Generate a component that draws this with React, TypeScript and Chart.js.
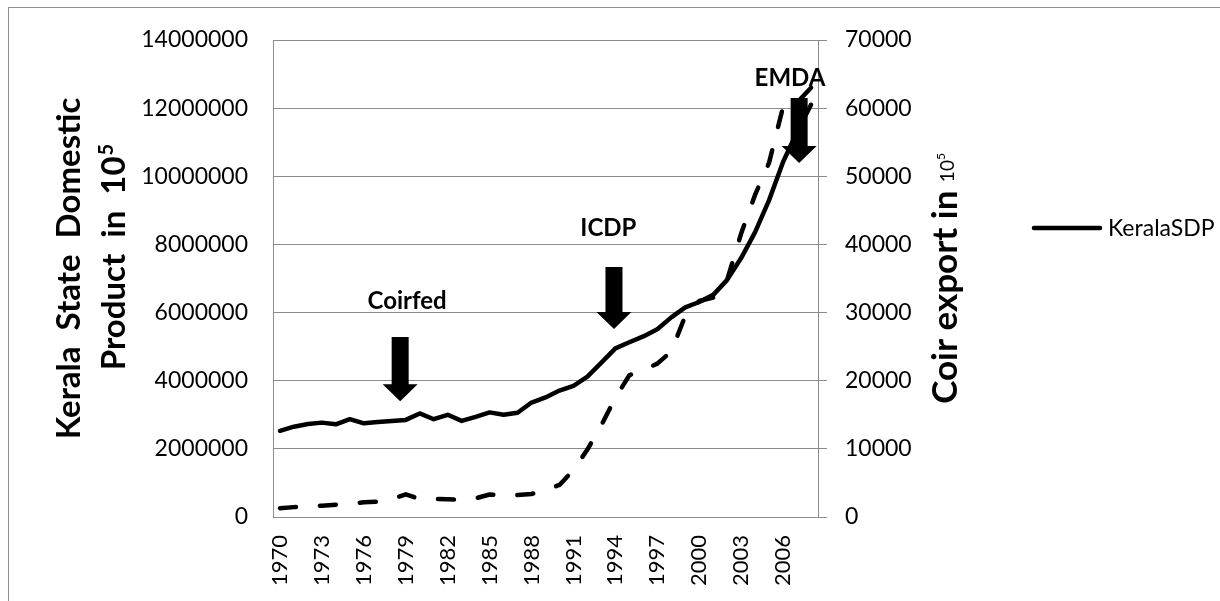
import React, { useEffect, useRef } from "react";
import { Chart, registerables } from "chart.js";

Chart.register(...registerables);

// ---------- data ----------
const years = [
  1970, 1971, 1972, 1973, 1974, 1975, 1976, 1977, 1978, 1979,
  1980, 1981, 1982, 1983, 1984, 1985, 1986, 1987, 1988, 1989,
  1990, 1991, 1992, 1993, 1994, 1995, 1996, 1997, 1998, 1999,
  2000, 2001, 2002, 2003, 2004, 2005, 2006, 2007, 2008,
];
const yearLabels = years.map(String);

// Kerala State Domestic Product (left axis)
const keralaSDP = [
  2530000, 2650000, 2730000, 2770000, 2720000, 2870000, 2750000, 2790000, 2820000, 2850000,
  3040000, 2870000, 3000000, 2820000, 2940000, 3070000, 3000000, 3060000, 3360000, 3510000,
  3710000, 3850000, 4120000, 4530000, 4950000, 5130000, 5300000, 5510000, 5860000, 6150000,
  6310000, 6520000, 6960000, 7600000, 8360000, 9300000, 10420000, 11300000, 12100000,
];

// Coir export (right axis)
const coirExport = [
  1300, 1450, 1560, 1660, 1810, 1960, 2150, 2250, 2640, 3330,
  2640, 2640, 2600, 2490, 2740, 3300, 3230, 3230, 3380, 3960,
  4700, 6900, 9900, 13500, 17500, 20800, 21600, 22500, 24300, 29500,
  31700, 32200, 34800, 41600, 47300, 52000, 60200, 60800, 63000,
];

const sdpTickValues = [0, 2000000, 4000000, 6000000, 8000000, 10000000, 12000000, 14000000];
const coirTickValues = [0, 10000, 20000, 30000, 40000, 50000, 60000, 70000];

// annotations: label, arrow year, arrow tip / top value, label year, label baseline value (left axis units)
const annotationLabels = ["Coirfed", "ICDP", "EMDA"];
const annotationArrowYears = [1978.6, 1993.9, 2007.15];
const annotationTipValues = [3400000, 5520000, 10390000];
const annotationTopValues = [5280000, 7340000, 12300000];
const annotationTextYears = [1979.1, 1993.5, 2006.5];
const annotationTextValues = [6100000, 8250000, 12650000];

const leftTitleLines = ["Kerala  State  Domestic", "Product  in  10"];
const leftTitleSup = "5";
const rightTitleMain = "Coir export in ";
const rightTitleSmall = "10";
const rightTitleSup = "5";

const GRID = "#8c8c8c";
const FONT = "Lato";

const overlayPlugin = {
  id: "overlay",
  afterDatasetsDraw(chart: any) {
    const ctx = chart.ctx as CanvasRenderingContext2D;
    const xs = chart.scales.x;
    const ys = chart.scales.y;
    ctx.save();
    ctx.fillStyle = "#000";
    for (let i = 0; i < annotationLabels.length; i++) {
      const cx = xs.getPixelForValue(annotationArrowYears[i] - years[0]);
      const tip = ys.getPixelForValue(annotationTipValues[i]);
      const top = ys.getPixelForValue(annotationTopValues[i]);
      const sh = 8.5, hh = 17.5, hl = 17;
      ctx.beginPath();
      ctx.moveTo(cx - sh, top);
      ctx.lineTo(cx + sh, top);
      ctx.lineTo(cx + sh, tip - hl);
      ctx.lineTo(cx + hh, tip - hl);
      ctx.lineTo(cx, tip);
      ctx.lineTo(cx - hh, tip - hl);
      ctx.lineTo(cx - sh, tip - hl);
      ctx.closePath();
      ctx.fill();
      const tx = xs.getPixelForValue(annotationTextYears[i] - years[0]);
      const ty = ys.getPixelForValue(annotationTextValues[i]);
      ctx.font = `bold 24px ${FONT}`;
      ctx.textAlign = "center";
      ctx.textBaseline = "alphabetic";
      ctx.fillText(annotationLabels[i], tx, ty);
    }
    ctx.restore();
  },
  afterDraw(chart: any) {
    const ctx = chart.ctx as CanvasRenderingContext2D;
    const area = chart.chartArea;
    const midY = (area.top + area.bottom) / 2;
    ctx.save();
    ctx.fillStyle = "#000";
    ctx.textBaseline = "alphabetic";
    ctx.textAlign = "left";

    // left title (two lines)
    const bigFont = `bold 33px ${FONT}`;
    const supFont = `bold 20px ${FONT}`;
    ctx.font = bigFont;
    const w1 = ctx.measureText(leftTitleLines[0]).width;
    ctx.save();
    ctx.translate(80, midY - 10);
    ctx.rotate(-Math.PI / 2);
    ctx.fillText(leftTitleLines[0], -w1 / 2, 0);
    ctx.restore();

    ctx.font = bigFont;
    const w2a = ctx.measureText(leftTitleLines[1]).width;
    ctx.font = supFont;
    const w2b = ctx.measureText(leftTitleSup).width;
    const w2 = w2a + w2b;
    ctx.save();
    ctx.translate(125, midY - 21);
    ctx.rotate(-Math.PI / 2);
    ctx.font = bigFont;
    ctx.fillText(leftTitleLines[1], -w2 / 2, 0);
    ctx.font = supFont;
    ctx.fillText(leftTitleSup, -w2 / 2 + w2a + 1, -12);
    ctx.restore();

    // right title
    const rMain = `bold 35px ${FONT}`;
    const rSmall = `19px ${FONT}`;
    const rSup = `12px ${FONT}`;
    ctx.font = rMain;
    const ra = ctx.measureText(rightTitleMain).width;
    ctx.font = rSmall;
    const rb = ctx.measureText(rightTitleSmall).width;
    ctx.font = rSup;
    const rc = ctx.measureText(rightTitleSup).width;
    const rw = ra + rb + rc;
    ctx.save();
    ctx.translate(957, midY);
    ctx.rotate(-Math.PI / 2);
    ctx.font = rMain;
    ctx.fillText(rightTitleMain, -rw / 2, 0);
    ctx.font = rSmall;
    ctx.fillText(rightTitleSmall, -rw / 2 + ra, -3);
    ctx.font = rSup;
    ctx.fillText(rightTitleSup, -rw / 2 + ra + rb, -12);
    ctx.restore();

    // legend (first dataset only)
    const ds = chart.data.datasets[0];
    ctx.strokeStyle = "#000";
    ctx.lineWidth = 4.5;
    ctx.lineCap = "round";
    ctx.beginPath();
    ctx.moveTo(1034, 228);
    ctx.lineTo(1100, 228);
    ctx.stroke();
    ctx.font = `23px ${FONT}`;
    ctx.textBaseline = "middle";
    ctx.fillText(ds.label, 1108, 229);
    ctx.restore();
  },
};

export default function App() {
  const canvasRef = useRef<HTMLCanvasElement | null>(null);

  useEffect(() => {
    const canvas = canvasRef.current;
    if (!canvas) return;
    const chart = new Chart(canvas, {
      type: "line",
      data: {
        labels: yearLabels,
        datasets: [
          {
            label: "KeralaSDP",
            data: keralaSDP,
            yAxisID: "y",
            borderColor: "#000",
            backgroundColor: "#000",
            borderWidth: 4.5,
            pointRadius: 0,
            tension: 0,
            borderCapStyle: "round",
            borderJoinStyle: "round",
            fill: false,
          },
          {
            label: "Coir export",
            data: coirExport,
            yAxisID: "y1",
            borderColor: "#000",
            backgroundColor: "#000",
            borderWidth: 4.5,
            borderDash: [16, 24],
            pointRadius: 0,
            tension: 0,
            borderCapStyle: "round",
            borderJoinStyle: "round",
            fill: false,
          },
        ],
      },
      options: {
        responsive: false,
        animation: false,
        devicePixelRatio: 1,
        layout: { padding: { top: 40, left: 0, right: 0, bottom: 0 } },
        plugins: {
          legend: { display: false },
          tooltip: { enabled: false },
        },
        scales: {
          x: {
            type: "category",
            offset: true,
            grid: { display: false, drawTicks: false },
            border: { display: true, color: GRID, width: 1 },
            ticks: {
              autoSkip: false,
              minRotation: 90,
              maxRotation: 90,
              padding: 18,
              color: "#000",
              font: { family: FONT, size: 22 },
              callback: (_v: any, i: number) => (i % 3 === 0 ? yearLabels[i] : null),
            },
            afterFit: (s: any) => {
              s.height = 84;
            },
          },
          y: {
            position: "left",
            min: 0,
            max: 14000000,
            afterBuildTicks: (s: any) => {
              s.ticks = sdpTickValues.map((v) => ({ value: v }));
            },
            grid: { color: GRID, lineWidth: 1, drawTicks: false },
            border: { display: true, color: GRID, width: 1 },
            ticks: {
              padding: 25,
              color: "#000",
              font: { family: FONT, size: 23 },
              callback: (v: any) => String(v),
            },
            afterFit: (s: any) => {
              s.width = 273;
            },
          },
          y1: {
            position: "right",
            min: 0,
            max: 70000,
            afterBuildTicks: (s: any) => {
              s.ticks = coirTickValues.map((v) => ({ value: v }));
            },
            grid: { drawOnChartArea: false, color: GRID, lineWidth: 1, drawTicks: true, tickLength: 9 },
            border: { display: true, color: GRID, width: 1 },
            ticks: {
              padding: 18,
              color: "#000",
              font: { family: FONT, size: 23 },
              callback: (v: any) => String(v),
            },
            afterFit: (s: any) => {
              s.width = 1220 - 818;
            },
          },
        },
      },
      plugins: [overlayPlugin],
    });
    return () => chart.destroy();
  }, []);

  return (
    <div
      style={{
        position: "fixed",
        left: 0,
        top: 0,
        width: 1220,
        height: 601,
        overflow: "hidden",
        background: "#fff",
      }}
    >
      <div
        style={{
          position: "absolute",
          left: 8,
          top: 7,
          width: 1240,
          height: 640,
          border: "1.5px solid #8f8f8f",
          boxSizing: "border-box",
        }}
      />
      <canvas
        ref={canvasRef}
        width={1220}
        height={601}
        style={{ position: "absolute", left: 0, top: 0, width: 1220, height: 601 }}
      />
    </div>
  );
}
